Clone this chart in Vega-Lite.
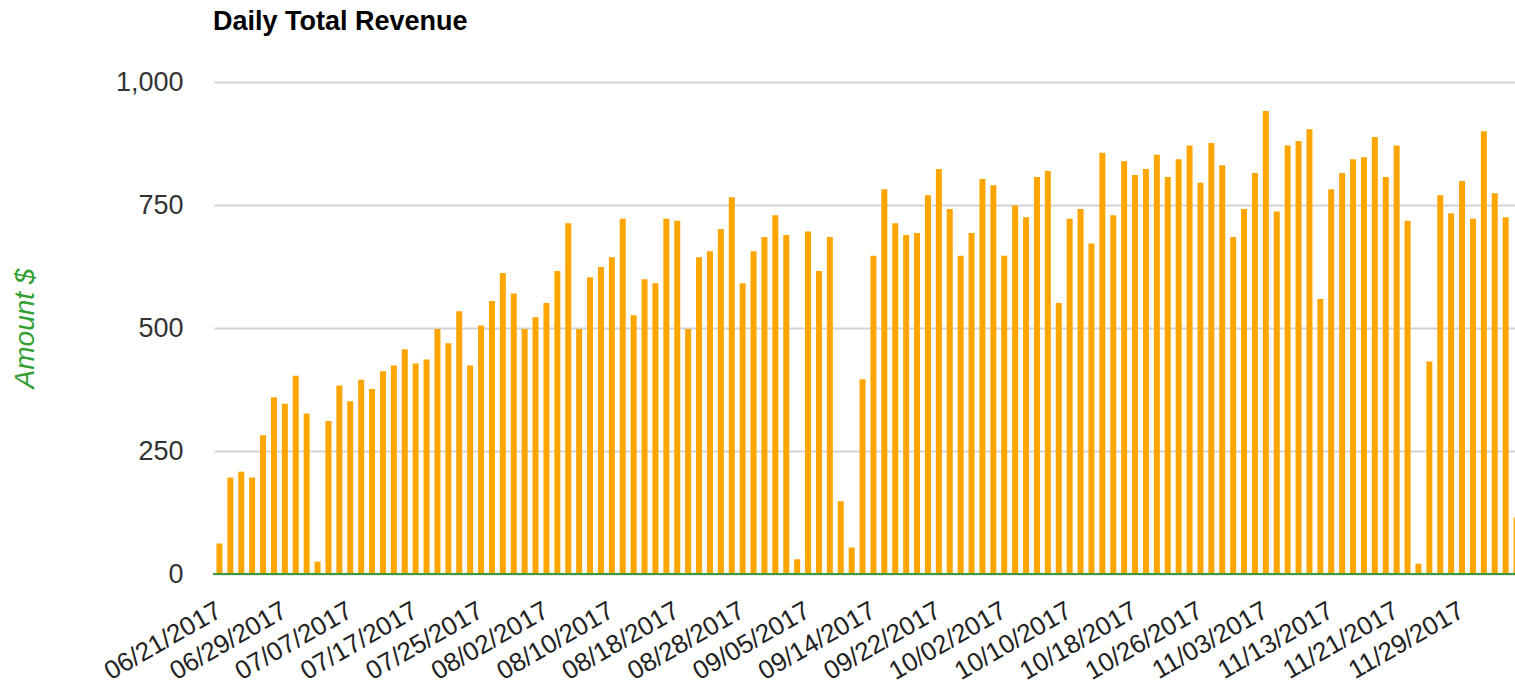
{
  "$schema": "https://vega.github.io/schema/vega-lite/v6.json",
  "autosize": {"type": "none"},
  "padding": {"left": 213, "top": 82, "right": 0, "bottom": 114},
  "width": 1302,
  "height": 492,
  "background": "white",
  "config": {
    "view": {"stroke": null},
    "font": "Liberation Sans"
  },
  "title": {
    "text": "Daily Total Revenue",
    "anchor": "start",
    "frame": "group",
    "fontSize": 27,
    "fontWeight": "bold",
    "color": "#000000",
    "font": "Liberation Sans",
    "baseline": "alphabetic",
    "offset": 11
  },
  "data": {
    "values": [
      {"date": "06/21/2017", "amount": 62},
      {"date": "06/22/2017", "amount": 196},
      {"date": "06/23/2017", "amount": 208},
      {"date": "06/26/2017", "amount": 196},
      {"date": "06/27/2017", "amount": 282},
      {"date": "06/28/2017", "amount": 359},
      {"date": "06/29/2017", "amount": 346},
      {"date": "06/30/2017", "amount": 403},
      {"date": "07/03/2017", "amount": 326},
      {"date": "07/04/2017", "amount": 25},
      {"date": "07/05/2017", "amount": 311},
      {"date": "07/06/2017", "amount": 383},
      {"date": "07/07/2017", "amount": 351},
      {"date": "07/10/2017", "amount": 395},
      {"date": "07/11/2017", "amount": 376},
      {"date": "07/12/2017", "amount": 412},
      {"date": "07/13/2017", "amount": 424},
      {"date": "07/14/2017", "amount": 457},
      {"date": "07/17/2017", "amount": 428},
      {"date": "07/18/2017", "amount": 436},
      {"date": "07/19/2017", "amount": 498},
      {"date": "07/20/2017", "amount": 469},
      {"date": "07/21/2017", "amount": 534},
      {"date": "07/24/2017", "amount": 424},
      {"date": "07/25/2017", "amount": 505},
      {"date": "07/26/2017", "amount": 555},
      {"date": "07/27/2017", "amount": 612},
      {"date": "07/28/2017", "amount": 570},
      {"date": "07/31/2017", "amount": 498},
      {"date": "08/01/2017", "amount": 522},
      {"date": "08/02/2017", "amount": 551},
      {"date": "08/03/2017", "amount": 616},
      {"date": "08/04/2017", "amount": 713},
      {"date": "08/07/2017", "amount": 498},
      {"date": "08/08/2017", "amount": 603},
      {"date": "08/09/2017", "amount": 624},
      {"date": "08/10/2017", "amount": 644},
      {"date": "08/11/2017", "amount": 722},
      {"date": "08/14/2017", "amount": 526},
      {"date": "08/15/2017", "amount": 599},
      {"date": "08/16/2017", "amount": 591},
      {"date": "08/17/2017", "amount": 722},
      {"date": "08/18/2017", "amount": 718},
      {"date": "08/21/2017", "amount": 498},
      {"date": "08/22/2017", "amount": 644},
      {"date": "08/23/2017", "amount": 656},
      {"date": "08/24/2017", "amount": 701},
      {"date": "08/25/2017", "amount": 766},
      {"date": "08/28/2017", "amount": 591},
      {"date": "08/29/2017", "amount": 656},
      {"date": "08/30/2017", "amount": 685},
      {"date": "08/31/2017", "amount": 729},
      {"date": "09/01/2017", "amount": 689},
      {"date": "09/04/2017", "amount": 30},
      {"date": "09/05/2017", "amount": 696},
      {"date": "09/06/2017", "amount": 616},
      {"date": "09/07/2017", "amount": 685},
      {"date": "09/08/2017", "amount": 148},
      {"date": "09/12/2017", "amount": 54},
      {"date": "09/13/2017", "amount": 396},
      {"date": "09/14/2017", "amount": 647},
      {"date": "09/15/2017", "amount": 782},
      {"date": "09/18/2017", "amount": 713},
      {"date": "09/19/2017", "amount": 689},
      {"date": "09/20/2017", "amount": 693},
      {"date": "09/21/2017", "amount": 770},
      {"date": "09/22/2017", "amount": 823},
      {"date": "09/25/2017", "amount": 742},
      {"date": "09/26/2017", "amount": 647},
      {"date": "09/27/2017", "amount": 693},
      {"date": "09/28/2017", "amount": 803},
      {"date": "09/29/2017", "amount": 790},
      {"date": "10/02/2017", "amount": 647},
      {"date": "10/03/2017", "amount": 749},
      {"date": "10/04/2017", "amount": 725},
      {"date": "10/05/2017", "amount": 807},
      {"date": "10/06/2017", "amount": 819},
      {"date": "10/09/2017", "amount": 551},
      {"date": "10/10/2017", "amount": 722},
      {"date": "10/11/2017", "amount": 742},
      {"date": "10/12/2017", "amount": 672},
      {"date": "10/13/2017", "amount": 856},
      {"date": "10/16/2017", "amount": 729},
      {"date": "10/17/2017", "amount": 839},
      {"date": "10/18/2017", "amount": 811},
      {"date": "10/19/2017", "amount": 823},
      {"date": "10/20/2017", "amount": 852},
      {"date": "10/23/2017", "amount": 807},
      {"date": "10/24/2017", "amount": 843},
      {"date": "10/25/2017", "amount": 871},
      {"date": "10/26/2017", "amount": 795},
      {"date": "10/27/2017", "amount": 876},
      {"date": "10/30/2017", "amount": 831},
      {"date": "10/31/2017", "amount": 685},
      {"date": "11/01/2017", "amount": 742},
      {"date": "11/02/2017", "amount": 815},
      {"date": "11/03/2017", "amount": 941},
      {"date": "11/06/2017", "amount": 737},
      {"date": "11/07/2017", "amount": 871},
      {"date": "11/08/2017", "amount": 880},
      {"date": "11/09/2017", "amount": 904},
      {"date": "11/10/2017", "amount": 559},
      {"date": "11/13/2017", "amount": 782},
      {"date": "11/14/2017", "amount": 815},
      {"date": "11/15/2017", "amount": 843},
      {"date": "11/16/2017", "amount": 847},
      {"date": "11/17/2017", "amount": 888},
      {"date": "11/20/2017", "amount": 807},
      {"date": "11/21/2017", "amount": 871},
      {"date": "11/22/2017", "amount": 718},
      {"date": "11/23/2017", "amount": 21},
      {"date": "11/24/2017", "amount": 432},
      {"date": "11/27/2017", "amount": 770},
      {"date": "11/28/2017", "amount": 733},
      {"date": "11/29/2017", "amount": 799},
      {"date": "11/30/2017", "amount": 722},
      {"date": "12/01/2017", "amount": 900},
      {"date": "12/04/2017", "amount": 774},
      {"date": "12/05/2017", "amount": 725},
      {"date": "12/06/2017", "amount": 115}
    ]
  },
  "layer": [
    {
      "mark": {"type": "bar", "color": "#FFA500", "clip": true},
      "encoding": {
        "x": {
          "field": "date",
          "type": "ordinal",
          "sort": null,
          "scale": {"range": [1, 1309], "paddingInner": 0.45, "paddingOuter": 0.225},
          "axis": {
            "title": null,
            "values": ["06/21/2017", "06/29/2017", "07/07/2017", "07/17/2017", "07/25/2017", "08/02/2017", "08/10/2017", "08/18/2017", "08/28/2017", "09/05/2017", "09/14/2017", "09/22/2017", "10/02/2017", "10/10/2017", "10/18/2017", "10/26/2017", "11/03/2017", "11/13/2017", "11/21/2017", "11/29/2017"],
            "labelAngle": -30,
            "labelAlign": "right",
            "labelBaseline": "middle",
            "labelPadding": 34,
            "labelFontSize": 26,
            "labelColor": "#222222",
            "labelFont": "Liberation Sans",
            "labelOverlap": false,
            "labelLimit": 300,
            "ticks": false,
            "tickSize": 0,
            "domain": false,
            "grid": false
          }
        },
        "y": {
          "field": "amount",
          "type": "quantitative",
          "scale": {"domain": [0, 1000], "nice": false},
          "axis": {
            "title": "Amount $",
            "values": [0, 250, 500, 750, 1000],
            "format": ",.0f",
            "labelFontSize": 27,
            "labelColor": "#333333",
            "labelFont": "Liberation Sans",
            "labelPadding": 30,
            "ticks": false,
            "tickSize": 0,
            "domain": false,
            "grid": true,
            "gridColor": "#d3d3d3",
            "gridWidth": 2,
            "titleFont": "Liberation Sans",
            "titleFontSize": 28,
            "titleFontStyle": "italic",
            "titleFontWeight": "normal",
            "titleColor": "#33a033",
            "titleAngle": -90,
            "titleAlign": "center",
            "titleBaseline": "alphabetic",
            "titleX": -180,
            "titleY": 246
          }
        }
      }
    },
    {
      "mark": {"type": "rule", "color": "#3a9a3a", "strokeWidth": 2},
      "encoding": {"y": {"datum": 0}}
    }
  ]
}
